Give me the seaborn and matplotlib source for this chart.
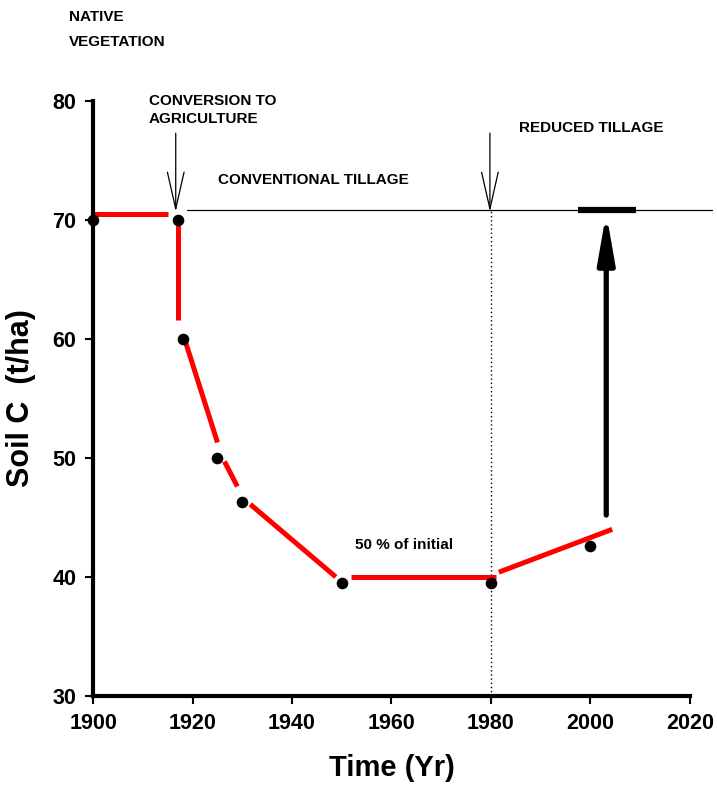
import numpy as np
import pandas as pd
import matplotlib
matplotlib.use("Agg")
import matplotlib.pyplot as plt
import seaborn as sns

# observed soil C points
years = [1900, 1917, 1918, 1925, 1930, 1950, 1980, 2000]
soil_c = [70.0, 70.0, 60.0, 50.0, 46.3, 39.5, 39.5, 42.6]

# hand-drawn red trend segments (start / end)
seg_x0 = [1900.0, 1917.0, 1918.6, 1926.4, 1931.6, 1951.8, 1981.6]
seg_y0 = [70.5, 70.0, 59.7, 49.7, 46.1, 40.0, 40.4]
seg_x1 = [1915.0, 1917.0, 1925.0, 1929.0, 1948.8, 1981.0, 2004.4]
seg_y1 = [70.5, 61.6, 51.3, 47.6, 40.0, 40.0, 44.0]

initial_level = 70.8
conversion_year = 1917
reduced_till_year = 1980
recovery_year = 2003.2
recovery_from = 45.2

x_ticks = [1900, 1920, 1940, 1960, 1980, 2000, 2020]
y_ticks = [30, 40, 50, 60, 70, 80]

sns.set_theme(style="ticks")
plt.rcParams['font.family'] = ['Liberation Sans', 'DejaVu Sans']
plt.rcParams['font.weight'] = 'bold'
plt.rcParams['text.color'] = 'black'
plt.rcParams['axes.labelcolor'] = 'black'
plt.rcParams['xtick.color'] = 'black'
plt.rcParams['ytick.color'] = 'black'
plt.rcParams['xtick.labelcolor'] = 'black'
plt.rcParams['ytick.labelcolor'] = 'black'

fig = plt.figure(figsize=(7.17, 7.89), dpi=100)
ax = fig.add_axes([0.130, 0.118, 0.832, 0.754])

# red segments via lineplot with units
rows = []
for i in range(len(seg_x0)):
    rows.append({"seg": i, "x": seg_x0[i], "y": seg_y0[i]})
    rows.append({"seg": i, "x": seg_x1[i], "y": seg_y1[i]})
seg_df = pd.DataFrame(rows)
sns.lineplot(data=seg_df, x="x", y="y", units="seg", estimator=None, sort=False,
             color="#ff0000", linewidth=3.6, ax=ax, legend=False,
             solid_capstyle="butt", zorder=2)

# points
pts = pd.DataFrame({"year": years, "soil_c": soil_c})
sns.scatterplot(data=pts, x="year", y="soil_c", color="black", s=70,
                edgecolor="black", linewidth=0, ax=ax, zorder=3, clip_on=False)

# reference line at initial level
ax.plot([1918.8, 2024.5], [initial_level, initial_level], color="black",
        linewidth=0.9, clip_on=False, zorder=1)

# dotted line at 1980
ax.plot([reduced_till_year, reduced_till_year], [30, initial_level], color="black",
        linestyle=(0, (1, 2)), linewidth=1.0, zorder=1)

# thin open arrows
for xa in [conversion_year - 0.4, reduced_till_year - 0.2]:
    ax.annotate("", xy=(xa, initial_level - 0.1), xytext=(xa, 77.3),
                arrowprops=dict(arrowstyle="->,head_length=2.2,head_width=0.5",
                                color="black", lw=0.9, shrinkA=0, shrinkB=0),
                annotation_clip=False)

# thick recovery arrow and bar
ax.annotate("", xy=(recovery_year, initial_level - 0.2), xytext=(recovery_year, recovery_from),
            arrowprops=dict(arrowstyle="-|>,head_length=2.4,head_width=0.42",
                            color="black", lw=3.8, shrinkA=0, shrinkB=0),
            annotation_clip=False)
ax.plot([1997.6, 2009.2], [initial_level, initial_level], color="black",
        linewidth=4.5, solid_capstyle="butt", zorder=4)

# annotations
txt = dict(fontsize=11, fontweight="bold", ha="left", va="center", clip_on=False)
ax.text(1895.2, 87.06, "NATIVE", **txt)
ax.text(1895.2, 84.96, "VEGETATION", **txt)
ax.text(1911.2, 80.0, "CONVERSION TO", **txt)
ax.text(1911.2, 78.5, "AGRICULTURE", **txt)
ax.text(1925.2, 73.4, "CONVENTIONAL TILLAGE", **txt)
ax.text(1985.6, 77.7, "REDUCED TILLAGE", **txt)
ax.text(1952.6, 42.7, "50 % of initial", **txt)

ax.set_xlim(1900, 2020)
ax.set_ylim(30, 80)
ax.set_xticks(x_ticks)
ax.set_yticks(y_ticks)
ax.tick_params(axis="both", labelsize=15.5, width=1.5, length=6, direction="out",
               color="black", pad=6)
for lab in ax.get_xticklabels() + ax.get_yticklabels():
    lab.set_fontweight("bold")

for side in ["top", "right"]:
    ax.spines[side].set_visible(False)
for side in ["left", "bottom"]:
    ax.spines[side].set_linewidth(3)
    ax.spines[side].set_color("black")

ax.set_xlabel("Time (Yr)", fontsize=21, fontweight="bold", labelpad=15)
ax.set_ylabel("Soil C  (t/ha)", fontsize=22, fontweight="bold", labelpad=12)

fig.savefig("out.png", dpi=100)
